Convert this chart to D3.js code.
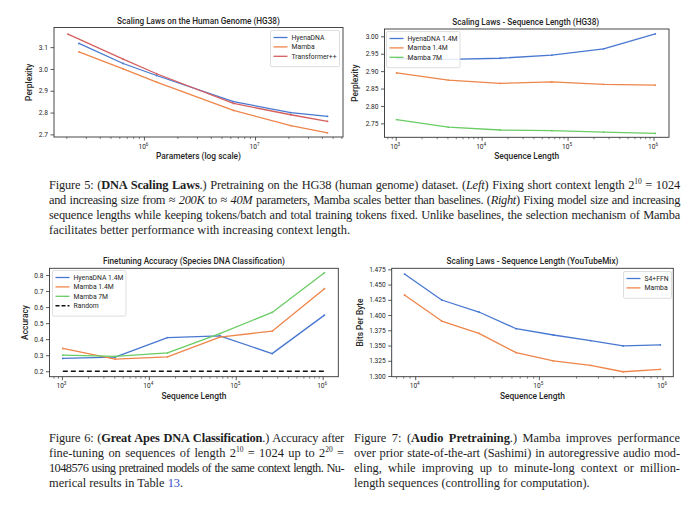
<!DOCTYPE html>
<html lang="en">
<head>
<meta charset="UTF-8">
<title>Mamba - DNA and audio scaling</title>
<script src="https://cdn.jsdelivr.net/npm/d3@7"></script>
<style>
  body { margin:0; background:#fff; }
  #page { position:relative; width:700px; height:510px; overflow:hidden; background:#fff; }
  #page svg { position:absolute; left:0; top:0; }
  .cap { position:absolute; white-space:nowrap; font-family:"Liberation Serif","DejaVu Serif",serif; font-size:12.4px; color:#1e1e1e; line-height:15px; }
  .cap sup { font-size:7.5px; vertical-align:5px; line-height:0; }
  .cap .lnk { color:#3150c8; }
  .t { font-family:Roboto,"DejaVu Sans",sans-serif; fill:#262626; }
</style>
</head>
<body>
<div id="page"></div>
<script>
// ---- data ----
// Fig 5 left : perplexity vs parameters
let paramsHyena = [2.6e5, 6.5e5, 1.3e6, 6.4e6, 2.1e7, 4.5e7],
    pplHyena    = [3.117, 3.025, 2.970, 2.850, 2.800, 2.783],
    paramsMamba = [2.6e5, 6.5e5, 1.3e6, 6.4e6, 2.1e7, 4.5e7],
    pplMamba    = [3.078, 3.000, 2.940, 2.810, 2.740, 2.707],
    paramsTrans = [2.07e5, 6.5e5, 1.3e6, 6.4e6, 2.1e7, 4.5e7],
    pplTrans    = [3.160, 3.045, 2.978, 2.842, 2.790, 2.760];
// Fig 5 right : perplexity vs sequence length
let seqLens      = [1024, 4096, 16384, 65536, 262144, 1048576],
    pplHyena14   = [2.936, 2.934, 2.937, 2.946, 2.964, 3.007],
    pplMamba14   = [2.895, 2.874, 2.865, 2.869, 2.862, 2.860],
    pplMamba7    = [2.761, 2.739, 2.731, 2.729, 2.725, 2.721];
// Fig 6 : species classification accuracy
let accHyena14 = [0.280, 0.288, 0.410, 0.420, 0.310, 0.550],
    accMamba14 = [0.342, 0.275, 0.290, 0.413, 0.450, 0.715],
    accMamba7  = [0.300, 0.293, 0.314, 0.435, 0.567, 0.814],
    accRandom  = [0.2, 0.2, 0.2, 0.2, 0.2, 0.2];
// Fig 7 : YouTubeMix bits per byte
let audioLens = [8192, 16384, 32768, 65536, 131072, 262144, 480000, 960000],
    bpbS4     = [1.4673, 1.4247, 1.4050, 1.3776, 1.3673, 1.3580, 1.3493, 1.3510],
    bpbMamba  = [1.4329, 1.3902, 1.3700, 1.3383, 1.3250, 1.3175, 1.3070, 1.3110];

let yTicks1 = [2.7, 2.8, 2.9, 3.0, 3.1],
    yTicks2 = [2.75, 2.80, 2.85, 2.90, 2.95, 3.00],
    yTicks3 = [0.2, 0.3, 0.4, 0.5, 0.6, 0.7, 0.8],
    yTicks4 = [1.300, 1.325, 1.350, 1.375, 1.400, 1.425, 1.450, 1.475];

let blue = '#4878d0', orange = '#ee854a', green = '#6acc64', red = '#d65f5f';

let page = d3.select('#page'),
    svg = page.append('svg').attr('width', 700).attr('height', 510);

function minorTicks(dom){
    let out = [], lo = Math.floor(Math.log10(dom[0])), hi = Math.ceil(Math.log10(dom[1]));
    for(let d = lo; d <= hi; d++)
        for(let k = 2; k <= 9; k++){
            let v = k * Math.pow(10, d);
            if(v > dom[0] && v < dom[1]) out.push(v);
        }
    return out;
}

function chart(c){
    let g = svg.append('g'),
        x = d3.scaleLog().domain(c.xDom).range([c.l, c.r]),
        y = d3.scaleLinear().domain(c.yDom).range([c.b, c.t]);

    // y axis
    let ya = g.append('g').attr('transform', `translate(${c.l},0)`)
        .call(d3.axisLeft(y).tickValues(c.yTicks).tickFormat(d3.format(c.yFmt)).tickSize(3.5).tickPadding(2.5));
    ya.select('.domain').remove();
    ya.selectAll('line').attr('stroke', '#333').attr('stroke-width', 0.8);
    ya.selectAll('text').attr('class', 't').attr('font-size', 6.6).attr('fill', '#262626');

    // x minor
    let xm = g.append('g').attr('transform', `translate(0,${c.b})`)
        .call(d3.axisBottom(x).tickValues(minorTicks(c.xDom)).tickFormat('').tickSize(2));
    xm.select('.domain').remove();
    xm.selectAll('line').attr('stroke', '#333').attr('stroke-width', 0.6);

    // x major, 10^n labels
    let xa = g.append('g').attr('transform', `translate(0,${c.b})`)
        .call(d3.axisBottom(x).tickValues(c.xMajors).tickFormat('').tickSize(3.5).tickPadding(3));
    xa.select('.domain').remove();
    xa.selectAll('line').attr('stroke', '#333').attr('stroke-width', 0.8);
    xa.selectAll('.tick').append('text').attr('class', 't').attr('font-size', 6.6)
        .attr('text-anchor', 'middle').attr('y', 11.5).attr('x', -1)
        .each(function(d){
            let t = d3.select(this);
            t.append('tspan').text('10');
            t.append('tspan').attr('font-size', 4.6).attr('dy', -3).text(Math.round(Math.log10(d)));
        });

    // lines
    let line = d3.line().x(d => x(d[0])).y(d => y(d[1]));
    c.series.forEach(s => {
        let pts = d3.zip(s.xs, s.ys);
        g.append('path').attr('d', line(pts)).attr('fill', 'none')
            .attr('stroke', s.color).attr('stroke-width', s.dash ? 1.6 : 1.3)
            .attr('stroke-linejoin', 'round')
            .attr('stroke-dasharray', s.dash ? '5,3' : null);
        if(!s.dash)
            g.selectAll(null).data(pts).enter().append('circle')
                .attr('cx', d => x(d[0])).attr('cy', d => y(d[1])).attr('r', 0.9).attr('fill', s.color);
    });

    // frame
    g.append('rect').attr('x', c.l).attr('y', c.t).attr('width', c.r - c.l).attr('height', c.b - c.t)
        .attr('fill', 'none').attr('stroke', '#333').attr('stroke-width', 0.9);

    // titles
    g.append('text').attr('class', 't').attr('x', (c.l + c.r) / 2 + c.tdx).attr('y', c.t - 4)
        .attr('text-anchor', 'middle').attr('font-size', 8.2).attr('font-weight', 500).text(c.title);
    g.append('text').attr('class', 't').attr('x', (c.l + c.r) / 2).attr('y', c.b + 22)
        .attr('text-anchor', 'middle').attr('font-size', 8.4).attr('font-weight', 500).text(c.xLabel);
    g.append('text').attr('class', 't').attr('transform', `translate(${c.ylx},${(c.t + c.b) / 2}) rotate(-90)`)
        .attr('text-anchor', 'middle').attr('font-size', 8.4).attr('font-weight', 500).text(c.yLabel);

    // legend
    let L = c.leg, lg = g.append('g');
    lg.append('rect').attr('x', L.x).attr('y', L.y).attr('width', L.w).attr('height', 8 + 9.4 * c.series.length)
        .attr('rx', 1.5).attr('fill', 'white').attr('fill-opacity', 0.85).attr('stroke', '#d0d0d0').attr('stroke-width', 0.7);
    c.series.forEach((s, i) => {
        let yy = L.y + 7 + i * 9.4;
        lg.append('line').attr('x1', L.x + 3).attr('x2', L.x + 17).attr('y1', yy).attr('y2', yy)
            .attr('stroke', s.dash ? '#111' : s.color).attr('stroke-width', s.dash ? 1.6 : 1.3)
            .attr('stroke-dasharray', s.dash ? '4,2' : null);
        lg.append('text').attr('class', 't').attr('x', L.x + 21).attr('y', yy + 2.4)
            .attr('font-size', 6.8).text(s.name);
    });
}

chart({l:54, r:343, t:27.5, b:137, xDom:[1.55e5, 6.2e7], yDom:[2.688, 3.19],
    yTicks:yTicks1, yFmt:'.1f', xMajors:[1e6, 1e7],
    title:'Scaling Laws on the Human Genome (HG38)', tdx:0,
    xLabel:'Parameters (log scale)', yLabel:'Perplexity', ylx:32,
    leg:{x:270.5, y:30.5, w:69},
    series:[
        {name:'HyenaDNA', xs:paramsHyena, ys:pplHyena, color:blue},
        {name:'Mamba', xs:paramsMamba, ys:pplMamba, color:orange},
        {name:'Transformer++', xs:paramsTrans, ys:pplTrans, color:red}
    ]});

chart({l:384.5, r:669, t:29, b:137.3, xDom:[Math.pow(10, 2.87), Math.pow(10, 6.18)], yDom:[2.71, 3.021],
    yTicks:yTicks2, yFmt:'.2f', xMajors:[1e3, 1e4, 1e5, 1e6],
    title:'Scaling Laws - Sequence Length (HG38)', tdx:-1,
    xLabel:'Sequence Length', yLabel:'Perplexity', ylx:357.5,
    leg:{x:386.5, y:31.5, w:73.5},
    series:[
        {name:'HyenaDNA 1.4M', xs:seqLens, ys:pplHyena14, color:blue},
        {name:'Mamba 1.4M', xs:seqLens, ys:pplMamba14, color:orange},
        {name:'Mamba 7M', xs:seqLens, ys:pplMamba7, color:green}
    ]});

chart({l:49.5, r:338.3, t:268.3, b:376.7, xDom:[Math.pow(10, 2.857), Math.pow(10, 6.18)], yDom:[0.166, 0.842],
    yTicks:yTicks3, yFmt:'.1f', xMajors:[1e3, 1e4, 1e5, 1e6],
    title:'Finetuning Accuracy (Species DNA Classification)', tdx:0,
    xLabel:'Sequence Length', yLabel:'Accuracy', ylx:28,
    leg:{x:52.5, y:270.5, w:73.5},
    series:[
        {name:'HyenaDNA 1.4M', xs:seqLens, ys:accHyena14, color:blue},
        {name:'Mamba 1.4M', xs:seqLens, ys:accMamba14, color:orange},
        {name:'Mamba 7M', xs:seqLens, ys:accMamba7, color:green},
        {name:'Random', xs:seqLens, ys:accRandom, color:'#111', dash:true}
    ]});

chart({l:391.7, r:673.3, t:268.3, b:376.7, xDom:[Math.pow(10, 3.81), Math.pow(10, 6.087)], yDom:[1.2989, 1.4767],
    yTicks:yTicks4, yFmt:'.3f', xMajors:[1e4, 1e5, 1e6],
    title:'Scaling Laws - Sequence Length (YouTubeMix)', tdx:0,
    xLabel:'Sequence Length', yLabel:'Bits Per Byte', ylx:363,
    leg:{x:623.5, y:271.5, w:48},
    series:[
        {name:'S4+FFN', xs:audioLens, ys:bpbS4, color:blue},
        {name:'Mamba', xs:audioLens, ys:bpbMamba, color:orange}
    ]});

// ---- captions (one div per printed line, justified by word spacing) ----
function caption(x, w, y0, lines){
    lines.forEach((html, i) => {
        let d = page.append('div').attr('class', 'cap')
            .style('left', x + 'px').style('top', (y0 + i * 15 - 7.5) + 'px').html(html),
            node = d.node(),
            spaces = node.textContent.split(' ').length - 1,
            chars = node.textContent.length,
            natural = node.getBoundingClientRect().width;
        // too long for the column: tighten letters first
        if(natural > w - spaces * 0.5){
            d.style('letter-spacing', ((w - natural - spaces * 0.8) / chars) + 'px');
            natural = node.getBoundingClientRect().width;
        }
        if(i < lines.length - 1 && spaces > 0)
            d.style('word-spacing', ((w - natural) / spaces) + 'px');
    });
}

caption(49, 631, 185, [
    'Figure 5: (<b>DNA Scaling Laws</b>.) Pretraining on the HG38 (human genome) dataset. (<i>Left</i>) Fixing short context length 2<sup>10</sup> = 1024',
    'and increasing size from ≈ <i>200K</i> to ≈ <i>40M</i> parameters, Mamba scales better than baselines. (<i>Right</i>) Fixing model size and increasing',
    'sequence lengths while keeping tokens/batch and total training tokens fixed. Unlike baselines, the selection mechanism of Mamba',
    'facilitates better performance with increasing context length.'
]);
caption(49, 295, 438, [
    'Figure 6: (<b>Great Apes DNA Classification</b>.) Accuracy after',
    'fine-tuning on sequences of length 2<sup>10</sup> = 1024 up to 2<sup>20</sup> =',
    '1048576 using pretrained models of the same context length. Nu-',
    'merical results in Table <span class="lnk">13</span>.'
]);
caption(354, 326, 438, [
    'Figure 7: (<b>Audio Pretraining</b>.) Mamba improves performance',
    'over prior state-of-the-art (Sashimi) in autoregressive audio mod-',
    'eling, while improving up to minute-long context or million-',
    'length sequences (controlling for computation).'
]);
</script>
</body>
</html>
